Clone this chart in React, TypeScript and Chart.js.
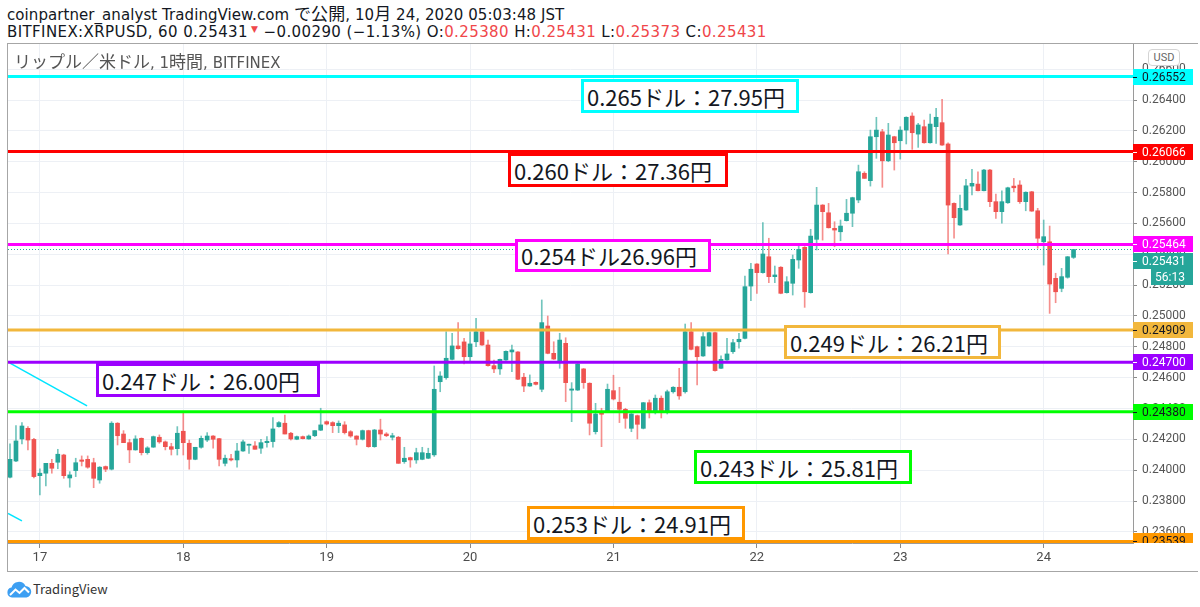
import React, { useEffect, useRef } from 'react';
import { Chart, registerables } from 'chart.js';

Chart.register(...registerables);

// Hourly candles, first candle = 16 Oct 2020 19:00 JST
const OPEN = [
  0.23955, 0.24060, 0.24203, 0.24272, 0.24200, 0.23965, 0.23981, 0.24045, 0.24052, 0.24099,
  0.23950, 0.23998, 0.24067, 0.24071, 0.24049, 0.23937, 0.24024, 0.24007, 0.24305, 0.24235,
  0.24179, 0.24132, 0.24207, 0.24114, 0.24150, 0.24214, 0.24184, 0.24153, 0.24140, 0.24253,
  0.24175, 0.24071, 0.24149, 0.24196, 0.24222, 0.24205, 0.24045, 0.24075, 0.24067, 0.24125,
  0.24162, 0.24158, 0.24143, 0.24179, 0.24186, 0.24283, 0.24305, 0.24240, 0.24201, 0.24218,
  0.24203, 0.24224, 0.24260, 0.24315, 0.24309, 0.24289, 0.24294, 0.24250, 0.24222, 0.24201,
  0.24257, 0.24153, 0.24261, 0.24235, 0.24214, 0.24214, 0.24056, 0.24082, 0.24067, 0.24071,
  0.24078, 0.24100, 0.24574, 0.24600, 0.24719, 0.24806, 0.24832, 0.24736, 0.24833, 0.24898,
  0.24812, 0.24678, 0.24657, 0.24715, 0.24767, 0.24767, 0.24603, 0.24546, 0.24570, 0.24525,
  0.24935, 0.24758, 0.24704, 0.24823, 0.24519, 0.24520, 0.24657, 0.24564, 0.24250, 0.24369,
  0.24380, 0.24516, 0.24441, 0.24395, 0.24272, 0.24354, 0.24272, 0.24438, 0.24378, 0.24467,
  0.24378, 0.24509, 0.24538, 0.24509, 0.24898, 0.24801, 0.24741, 0.24806, 0.24892, 0.24661,
  0.24715, 0.24769, 0.24833, 0.24855, 0.25194, 0.25337, 0.25281, 0.25384, 0.25255, 0.25316,
  0.25151, 0.25212, 0.25363, 0.25445, 0.25151, 0.25497, 0.25719, 0.25669, 0.25568, 0.25546,
  0.25618, 0.25666, 0.25752, 0.25925, 0.25877, 0.26162, 0.26194, 0.26006, 0.26162, 0.26136,
  0.26205, 0.26296, 0.26179, 0.26227, 0.26123, 0.26227, 0.26253, 0.26115, 0.25730, 0.25590,
  0.25687, 0.25842, 0.25855, 0.25812, 0.25946, 0.25741, 0.25676, 0.25734, 0.25842, 0.25849,
  0.25741, 0.25805, 0.25682, 0.25481, 0.25481, 0.25244, 0.25179, 0.25251, 0.25380,
];
const HIGH = [
  0.24171, 0.24289, 0.24309, 0.24283, 0.24207, 0.24009, 0.24045, 0.24071, 0.24136, 0.24104,
  0.23991, 0.24078, 0.24093, 0.24093, 0.24078, 0.24024, 0.24028, 0.24315, 0.24309, 0.24257,
  0.24201, 0.24224, 0.24210, 0.24153, 0.24222, 0.24229, 0.24190, 0.24175, 0.24283, 0.24369,
  0.24196, 0.24149, 0.24222, 0.24244, 0.24225, 0.24207, 0.24099, 0.24104, 0.24175, 0.24196,
  0.24169, 0.24186, 0.24201, 0.24218, 0.24341, 0.24315, 0.24358, 0.24246, 0.24222, 0.24222,
  0.24229, 0.24257, 0.24402, 0.24320, 0.24315, 0.24320, 0.24315, 0.24257, 0.24224, 0.24261,
  0.24260, 0.24265, 0.24331, 0.24244, 0.24240, 0.24220, 0.24149, 0.24085, 0.24143, 0.24149,
  0.24143, 0.24676, 0.24639, 0.24898, 0.24888, 0.24957, 0.24855, 0.24898, 0.24985, 0.24900,
  0.24844, 0.24715, 0.24720, 0.24775, 0.24812, 0.24770, 0.24629, 0.24618, 0.24573, 0.25104,
  0.25000, 0.24833, 0.24888, 0.24859, 0.24568, 0.24692, 0.24660, 0.24567, 0.24434, 0.24402,
  0.24559, 0.24616, 0.24538, 0.24402, 0.24368, 0.24358, 0.24440, 0.24456, 0.24488, 0.24482,
  0.24520, 0.24542, 0.24661, 0.24948, 0.24957, 0.24805, 0.24892, 0.24895, 0.24895, 0.24741,
  0.24855, 0.24849, 0.24888, 0.25259, 0.25341, 0.25340, 0.25605, 0.25504, 0.25324, 0.25320,
  0.25255, 0.25395, 0.25454, 0.25450, 0.25562, 0.25834, 0.25722, 0.25730, 0.25611, 0.25622,
  0.25756, 0.25770, 0.25978, 0.25935, 0.26205, 0.26288, 0.26210, 0.26249, 0.26165, 0.26227,
  0.26291, 0.26317, 0.26249, 0.26270, 0.26309, 0.26346, 0.26404, 0.26123, 0.25733, 0.25784,
  0.25886, 0.25951, 0.25935, 0.25950, 0.25950, 0.25791, 0.25812, 0.25835, 0.25892, 0.25877,
  0.25805, 0.25808, 0.25698, 0.25622, 0.25583, 0.25277, 0.25309, 0.25386, 0.25431,
];
const LOW = [
  0.23950, 0.24055, 0.24171, 0.24132, 0.23950, 0.23840, 0.23898, 0.23981, 0.24010, 0.23948,
  0.23890, 0.23959, 0.24028, 0.24013, 0.23887, 0.23916, 0.23991, 0.24002, 0.24164, 0.24179,
  0.24049, 0.24130, 0.24099, 0.24104, 0.24148, 0.24175, 0.24132, 0.24099, 0.24099, 0.24099,
  0.24007, 0.24068, 0.24143, 0.24186, 0.24143, 0.24028, 0.24028, 0.24060, 0.24020, 0.24123,
  0.24110, 0.24136, 0.24110, 0.24149, 0.24149, 0.24280, 0.24235, 0.24196, 0.24198, 0.24203,
  0.24201, 0.24218, 0.24257, 0.24294, 0.24244, 0.24244, 0.24235, 0.24214, 0.24164, 0.24196,
  0.24149, 0.24149, 0.24196, 0.24218, 0.24196, 0.24045, 0.24045, 0.24020, 0.24045, 0.24068,
  0.24075, 0.24090, 0.24509, 0.24590, 0.24715, 0.24785, 0.24689, 0.24704, 0.24801, 0.24810,
  0.24675, 0.24633, 0.24622, 0.24712, 0.24639, 0.24588, 0.24509, 0.24544, 0.24553, 0.24509,
  0.24755, 0.24718, 0.24661, 0.24445, 0.24315, 0.24517, 0.24531, 0.24229, 0.24235, 0.24153,
  0.24378, 0.24456, 0.24309, 0.24272, 0.24250, 0.24203, 0.24268, 0.24339, 0.24365, 0.24339,
  0.24365, 0.24500, 0.24460, 0.24500, 0.24780, 0.24553, 0.24738, 0.24803, 0.24643, 0.24658,
  0.24712, 0.24758, 0.24791, 0.24852, 0.25099, 0.25147, 0.25278, 0.25216, 0.25216, 0.25144,
  0.25148, 0.25136, 0.25309, 0.25056, 0.25148, 0.25428, 0.25492, 0.25570, 0.25449, 0.25488,
  0.25615, 0.25579, 0.25734, 0.25892, 0.25842, 0.26022, 0.25834, 0.26000, 0.25946, 0.26017,
  0.26115, 0.26080, 0.26093, 0.26120, 0.26120, 0.26119, 0.26105, 0.25402, 0.25504, 0.25587,
  0.25684, 0.25784, 0.25810, 0.25810, 0.25708, 0.25633, 0.25601, 0.25730, 0.25805, 0.25730,
  0.25682, 0.25678, 0.25439, 0.25330, 0.25017, 0.25086, 0.25157, 0.25245, 0.25373,
];
const CLOSE = [
  0.24071, 0.24190, 0.24287, 0.24196, 0.23959, 0.23981, 0.24045, 0.24013, 0.24104, 0.23965,
  0.23970, 0.24049, 0.24058, 0.24020, 0.23948, 0.24020, 0.24007, 0.24305, 0.24224, 0.24179,
  0.24132, 0.24203, 0.24114, 0.24145, 0.24218, 0.24184, 0.24153, 0.24136, 0.24240, 0.24179,
  0.24071, 0.24149, 0.24207, 0.24222, 0.24201, 0.24071, 0.24078, 0.24067, 0.24125, 0.24184,
  0.24169, 0.24136, 0.24179, 0.24188, 0.24268, 0.24309, 0.24235, 0.24203, 0.24218, 0.24205,
  0.24222, 0.24257, 0.24294, 0.24300, 0.24289, 0.24305, 0.24244, 0.24222, 0.24201, 0.24257,
  0.24153, 0.24261, 0.24235, 0.24224, 0.24224, 0.24045, 0.24078, 0.24067, 0.24114, 0.24114,
  0.24110, 0.24525, 0.24611, 0.24726, 0.24806, 0.24788, 0.24736, 0.24819, 0.24898, 0.24812,
  0.24678, 0.24657, 0.24719, 0.24771, 0.24780, 0.24590, 0.24546, 0.24564, 0.24557, 0.24957,
  0.24758, 0.24721, 0.24844, 0.24568, 0.24527, 0.24689, 0.24568, 0.24305, 0.24365, 0.24363,
  0.24525, 0.24462, 0.24395, 0.24337, 0.24365, 0.24298, 0.24438, 0.24378, 0.24467, 0.24378,
  0.24509, 0.24538, 0.24482, 0.24898, 0.24784, 0.24736, 0.24866, 0.24892, 0.24646, 0.24719,
  0.24754, 0.24827, 0.24849, 0.25190, 0.25303, 0.25281, 0.25402, 0.25255, 0.25266, 0.25147,
  0.25222, 0.25367, 0.25432, 0.25157, 0.25518, 0.25719, 0.25676, 0.25572, 0.25557, 0.25583,
  0.25666, 0.25767, 0.25935, 0.25892, 0.26162, 0.26205, 0.26006, 0.26173, 0.26123, 0.26205,
  0.26288, 0.26188, 0.26238, 0.26123, 0.26244, 0.26288, 0.26108, 0.25719, 0.25637, 0.25698,
  0.25844, 0.25860, 0.25812, 0.25946, 0.25741, 0.25676, 0.25741, 0.25831, 0.25831, 0.25741,
  0.25802, 0.25680, 0.25504, 0.25514, 0.25207, 0.25157, 0.25255, 0.25384, 0.25431,
];

const FIRST_CANDLE_HOUR = 19;
const DAY_LABELS = ['17', '18', '19', '20', '21', '22', '23', '24'];

const X_MIN = -0.335;
const X_MAX = 187.95;
const Y_MIN = 0.235286;
const Y_MAX = 0.26763;
const Y_STEP = 0.002;

const LEVEL_VALUES = [0.26552, 0.26066, 0.25464, 0.24909, 0.247, 0.2438, 0.23539];
const LEVEL_COLORS = ['#00ffff', '#ff0000', '#ff00ff', '#f2b73c', '#9c00ff', '#00ff00', '#ff9800'];
const LEVEL_TEXT_COLORS = ['#131722', '#ffffff', '#ffffff', '#131722', '#ffffff', '#131722', '#131722'];

const LAST_PRICE = 0.25431;
const COUNTDOWN = '56:13';

const TREND_A_X = [0, 12.9];
const TREND_A_Y = [0.24695, 0.24417];
const TREND_B_X = [-0.335, 2.0];
const TREND_B_Y = [0.2372, 0.23672];

const HEADER_LINE_1 = 'coinpartner_analyst TradingView.com で公開, 10月 24, 2020 05:03:48 JST';
const SYMBOL_TEXT = 'BITFINEX:XRPUSD, 60 0.25431';
const CHANGE_TEXT = ' −0.00290 (−1.13%)';
const OHLC_KEYS = ['O:', 'H:', 'L:', 'C:'];
const OHLC_VALUES = ['0.25380', '0.25431', '0.25373', '0.25431'];
const PANE_TITLE = 'リップル／米ドル, 1時間, BITFINEX';

const NOTE_TEXTS = [
  '0.265ドル：27.95円',
  '0.260ドル：27.36円',
  '0.254ドル26.96円',
  '0.249ドル：26.21円',
  '0.247ドル：26.00円',
  '0.243ドル：25.81円',
  '0.253ドル：24.91円',
];
const NOTE_COLORS = ['#00ffff', '#ff0000', '#ff00ff', '#f2b73c', '#9c00ff', '#00ff00', '#ff9800'];
const NOTE_BOXES = [
  { left: 581, top: 79, width: 218, height: 34 },
  { left: 508, top: 153, width: 220, height: 34 },
  { left: 515, top: 239, width: 196, height: 33 },
  { left: 784, top: 325, width: 217, height: 34 },
  { left: 96, top: 363, width: 224, height: 34 },
  { left: 694, top: 450, width: 218, height: 34 },
  { left: 527, top: 506, width: 218, height: 34 },
];

const GREEN = '#26a69a';
const RED = '#ef5350';
const GREEN_WICK = 'rgba(38,166,154,0.65)';
const RED_WICK = 'rgba(239,83,80,0.65)';
const LATIN_FONT = "'DejaVu Sans', 'Noto Sans CJK JP', sans-serif";
const CJK_FONT = "'Noto Sans CJK JP', sans-serif";

const CJK_RE = /([\u3000-\u30ff\u3400-\u9fff\uff00-\uffef]+)/;

function Mixed({ text, cjkSize }: { text: string; cjkSize: number }) {
  const parts = text.split(CJK_RE);
  return (
    <>
      {parts.map((p, i) =>
        i % 2 === 1 ? (
          <span key={i} style={{ fontFamily: CJK_FONT, fontSize: cjkSize }}>
            {p}
          </span>
        ) : (
          <React.Fragment key={i}>{p}</React.Fragment>
        ),
      )}
    </>
  );
}

const priceLabelPlugin = {
  id: 'priceLabels',
  afterDraw(chart: any) {
    const { ctx, chartArea, scales } = chart;
    const y = scales.y;
    const left = chartArea.right;
    const w = chart.width - left;
    const h = 16;
    ctx.save();
    ctx.beginPath();
    ctx.rect(left, chartArea.top, w, chartArea.bottom - chartArea.top);
    ctx.clip();
    ctx.font = '12px Roboto';
    ctx.textBaseline = 'middle';
    ctx.textAlign = 'left';
    const draw = (c: number, bg: string, fg: string, text: string, x0: number, dash: boolean) => {
      ctx.fillStyle = bg;
      ctx.fillRect(x0, Math.round(c - h / 2), chart.width - x0, h);
      ctx.fillStyle = fg;
      if (dash) ctx.fillRect(left, Math.round(c), 4, 1);
      ctx.fillText(text, x0 === left ? left + 9 : x0 + 4, c + 1);
    };
    const centers: number[] = [];
    LEVEL_VALUES.forEach((v, i) => {
      const c = y.getPixelForValue(v);
      draw(c, LEVEL_COLORS[i], LEVEL_TEXT_COLORS[i], v.toFixed(5), left, true);
      centers.push(c);
    });
    let c = y.getPixelForValue(LAST_PRICE);
    centers.forEach((d) => {
      if (Math.abs(d - c) < h) c = d + h + 1;
    });
    draw(c, GREEN, '#ffffff', LAST_PRICE.toFixed(5), left, true);
    draw(c + h, GREEN, '#ffffff', COUNTDOWN, left + 18, false);
    ctx.restore();
  },
};

export default function App() {
  const ref = useRef<HTMLCanvasElement>(null);

  useEffect(() => {
    const canvas = ref.current;
    if (!canvas) return;
    const idx = OPEN.map((_, i) => i);
    const up = idx.map((i) => CLOSE[i] >= OPEN[i]);
    const dayTicks = DAY_LABELS.map((_, k) => 24 - FIRST_CANDLE_HOUR + 24 * k);

    const lineBase = { type: 'line' as const, pointRadius: 0, fill: false, tension: 0 };

    const chart = new Chart(canvas, {
      type: 'bar',
      data: {
        datasets: [
          ...LEVEL_VALUES.map((v, i) => ({
            ...lineBase,
            data: [{ x: X_MIN, y: v }, { x: X_MAX, y: v }],
            borderColor: LEVEL_COLORS[i],
            borderWidth: 3,
            order: 1,
          })),
          {
            ...lineBase,
            data: TREND_A_X.map((x, i) => ({ x, y: TREND_A_Y[i] })),
            borderColor: '#00e5ff',
            borderWidth: 1.5,
            order: 1,
          },
          {
            ...lineBase,
            data: TREND_B_X.map((x, i) => ({ x, y: TREND_B_Y[i] })),
            borderColor: '#00e5ff',
            borderWidth: 1.5,
            order: 1,
          },
          {
            ...lineBase,
            data: [{ x: X_MIN, y: LAST_PRICE }, { x: X_MAX, y: LAST_PRICE }],
            borderColor: GREEN,
            borderWidth: 1,
            borderDash: [1, 2],
            order: 2,
          },
          {
            type: 'bar' as const,
            data: idx.map((i) => ({ x: i, y: [OPEN[i], CLOSE[i]] })),
            backgroundColor: up.map((u) => (u ? GREEN : RED)),
            barThickness: 4,
            minBarLength: 1,
            grouped: false,
            order: 3,
          },
          {
            type: 'bar' as const,
            data: idx.map((i) => ({ x: i, y: [LOW[i], HIGH[i]] })),
            backgroundColor: up.map((u) => (u ? GREEN_WICK : RED_WICK)),
            barThickness: 1,
            grouped: false,
            order: 4,
          },
        ] as any,
      },
      options: {
        responsive: false,
        animation: false,
        layout: { padding: 0 },
        plugins: { legend: { display: false }, tooltip: { enabled: false } },
        scales: {
          x: {
            type: 'linear',
            min: X_MIN,
            max: X_MAX,
            offset: false,
            grid: { color: '#edf0f5', tickColor: '#8a8a8a', tickLength: 5, offset: false },
            border: { color: '#9a9a9a', width: 1 },
            ticks: {
              autoSkip: false,
              maxRotation: 0,
              padding: 2,
              color: '#4c4c4c',
              font: { family: 'Roboto', size: 13 },
              callback: (value: any) => {
                const k = dayTicks.indexOf(Number(value));
                return k >= 0 ? DAY_LABELS[k] : '';
              },
            },
            afterBuildTicks: (s: any) => {
              s.ticks = dayTicks.map((v) => ({ value: v }));
            },
            afterFit: (s: any) => {
              s.height = 28;
              s.paddingLeft = 0;
              s.paddingRight = 0;
            },
          },
          y: {
            type: 'linear',
            position: 'right',
            min: Y_MIN,
            max: Y_MAX,
            grid: { color: '#edf0f5', tickColor: '#8a8a8a', tickLength: 4 },
            border: { color: '#9a9a9a', width: 1 },
            ticks: {
              stepSize: Y_STEP,
              includeBounds: false,
              autoSkip: false,
              maxTicksLimit: 100,
              padding: 5,
              color: '#555555',
              font: { family: 'Roboto', size: 12 },
              callback: (value: any) => Number(value).toFixed(5),
            },
            afterFit: (s: any) => {
              s.width = 60;
              s.paddingTop = 0;
              s.paddingBottom = 0;
            },
          },
        },
      } as any,
      plugins: [priceLabelPlugin],
    });
    return () => chart.destroy();
  }, []);

  const red = { color: '#f0474a' };

  return (
    <div
      style={{
        position: 'fixed',
        left: 0,
        top: 0,
        width: 1200,
        height: 607,
        background: '#ffffff',
        overflow: 'hidden',
        fontFamily: LATIN_FONT,
        color: '#131722',
      }}
    >
      <div style={{ position: 'absolute', left: 7, top: 3, fontSize: 15, lineHeight: '20px', whiteSpace: 'nowrap', letterSpacing: 0.07 }}>
        <Mixed text={HEADER_LINE_1} cjkSize={17} />
      </div>
      <div
        style={{
          position: 'absolute',
          left: 7,
          top: 22,
          fontSize: 15,
          lineHeight: '20px',
          whiteSpace: 'nowrap',
          letterSpacing: 0.4,
        }}
      >
        {SYMBOL_TEXT}
        <span style={{ ...red, fontSize: 9, position: 'relative', top: -5, marginLeft: 3 }}>▼</span>
        {CHANGE_TEXT}
        {OHLC_KEYS.map((k, i) => (
          <React.Fragment key={k}>
            {' '}
            {k}
            <span style={red}>{OHLC_VALUES[i]}</span>
          </React.Fragment>
        ))}
      </div>
      <div
        style={{
          position: 'absolute',
          left: 7,
          top: 43,
          width: 1190,
          height: 527,
          borderTop: '1px solid #a6a6a6',
          borderLeft: '1px solid #a6a6a6',
          borderBottom: '1px solid #a6a6a6',
        }}
      />
      <canvas
        ref={ref}
        width={1185}
        height={527}
        style={{ position: 'absolute', left: 8, top: 44, width: 1185, height: 527 }}
      />
      <div
        style={{
          position: 'absolute',
          left: 14,
          top: 51,
          fontSize: 15,
          lineHeight: '20px',
          color: '#555',
          whiteSpace: 'nowrap',
        }}
      >
        <Mixed text={PANE_TITLE} cjkSize={17} />
      </div>
      <div
        style={{
          position: 'absolute',
          left: 1148,
          top: 49,
          width: 32,
          height: 17,
          boxSizing: 'border-box',
          border: '1px solid #d4d4d4',
          borderRadius: 4,
          background: '#fff',
          fontFamily: 'Roboto',
          fontSize: 11,
          lineHeight: '15px',
          textAlign: 'center',
          color: '#666',
        }}
      >
        USD
      </div>
      {NOTE_TEXTS.map((t, i) => (
        <div
          key={i}
          style={{
            position: 'absolute',
            left: NOTE_BOXES[i].left,
            top: NOTE_BOXES[i].top,
            width: NOTE_BOXES[i].width,
            height: NOTE_BOXES[i].height,
            boxSizing: 'border-box',
            border: `3px solid ${NOTE_COLORS[i]}`,
            background: '#ffffff',
            fontFamily: CJK_FONT,
            fontSize: 22,
            lineHeight: `${NOTE_BOXES[i].height - 6}px`,
            paddingLeft: 3,
            whiteSpace: 'nowrap',
            color: '#131722',
          }}
        >
          {t}
        </div>
      ))}
      <svg style={{ position: 'absolute', left: 7, top: 580 }} width="25" height="18" viewBox="0 0 25 18">
        <path d="M5 17.5 A5 5 0 0 1 4.5 7.6 A7.5 7.5 0 0 1 18.5 6 A5.8 5.8 0 0 1 19.5 17.5 Z" fill="#3d9ff2" />
        <polyline points="3,15 8.5,9.5 12.5,13 17.5,8 22,12.5" fill="none" stroke="#ffffff" strokeWidth="2" />
      </svg>
      <div
        style={{
          position: 'absolute',
          left: 33,
          top: 580,
          fontFamily: CJK_FONT,
          fontSize: 13,
          lineHeight: '18px',
          color: '#333',
          whiteSpace: 'nowrap',
        }}
      >
        TradingView
      </div>
    </div>
  );
}
